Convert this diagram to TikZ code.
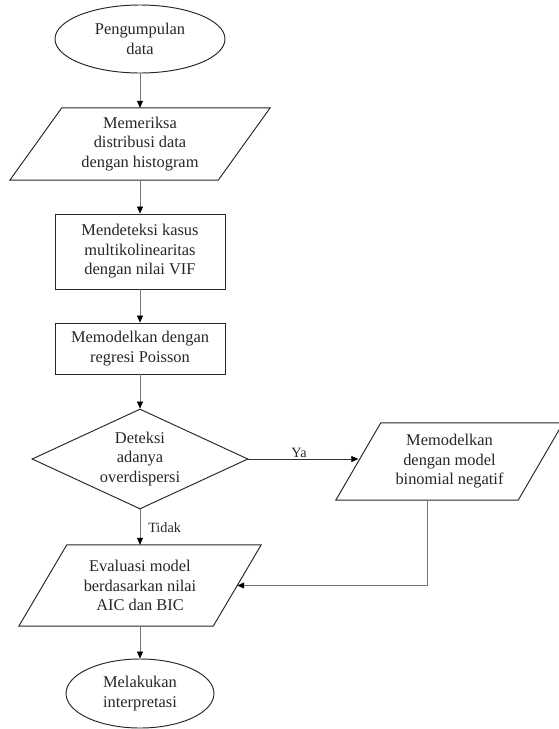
\documentclass[tikz,border=0pt]{standalone}
\usepackage{fontspec}
\setmainfont{Liberation Serif}
\usetikzlibrary{shapes.geometric,arrows.meta}
\newcommand\drawpara[2]{\draw[shapeline] ([xshift=#2]#1.north west) -- ([xshift=#2]#1.north east) -- ([xshift=-#2]#1.south east) -- ([xshift=-#2]#1.south west) -- cycle;}
\begin{document}
\begin{tikzpicture}[x=1pt,y=-1pt,
  shapeline/.style={draw=black!85, line width=0.95pt},
  txt/.style={font=\fontsize{16.4}{19.5}\selectfont, align=center, text=black!85},
  term/.style={txt, shapeline, ellipse, inner sep=1pt},
  proc/.style={txt, shapeline, rectangle, inner sep=0pt},
  parabody/.style={txt, rectangle, inner sep=0pt},
  decide/.style={txt, shapeline, diamond, inner sep=0pt, aspect=2.16},
  conn/.style={draw=black!55, line width=0.6pt, -{Triangle[length=7pt,width=6pt,color=black]}},
  lbl/.style={font=\fontsize{14.2}{16}\selectfont, text=black!85}]
\useasboundingbox (0,0) rectangle (558,729);
\node[term, minimum width=170pt, minimum height=68pt] (e1) at (140,39) {Pengumpulan\\data};
\node[parabody, minimum width=208pt, minimum height=72pt] (p1) at (140,144) {Memeriksa\\distribusi data\\dengan histogram};
\drawpara{p1}{26pt}
\node[proc, minimum width=170pt, minimum height=75pt] (r1) at (140,251.5) {Mendeteksi kasus\\multikolinearitas\\dengan nilai VIF};
\node[proc, minimum width=170pt, minimum height=51pt] (r2) at (140,348.5) {Memodelkan dengan\\regresi Poisson};
\node[decide, minimum width=216pt, minimum height=100pt] (d) at (140,459) {Deteksi\\adanya\\overdispersi};
\node[parabody, minimum width=182pt, minimum height=77pt] (p2) at (449.5,461.5) {Memodelkan\\dengan model\\binomial negatif};
\drawpara{p2}{22.5pt}
\node[parabody, minimum width=194pt, minimum height=81pt] (p3) at (140,585.5) {Evaluasi model\\berdasarkan nilai\\AIC dan BIC};
\drawpara{p3}{24pt}
\node[term, minimum width=148pt, minimum height=69pt] (e2) at (140,693.5) {Melakukan\\interpretasi};
\draw[conn] (e1.south) -- (p1.north);
\draw[conn] (p1.south) -- (r1.north);
\draw[conn] (r1.south) -- (r2.north);
\draw[conn] (r2.south) -- (d.north);
\draw[conn, draw=black!80] (d.east) -- node[lbl, pos=0.46, above, inner sep=1.5pt] {Ya} (d.east -| p2.west);
\draw[conn] (d.south) -- node[lbl, right, inner sep=0pt, xshift=8pt] {Tidak} (p3.north);
\draw[conn] ([xshift=-22.5pt]p2.south) |- (p3.east);
\draw[conn] (p3.south) -- (e2.north);
\end{tikzpicture}
\end{document}
